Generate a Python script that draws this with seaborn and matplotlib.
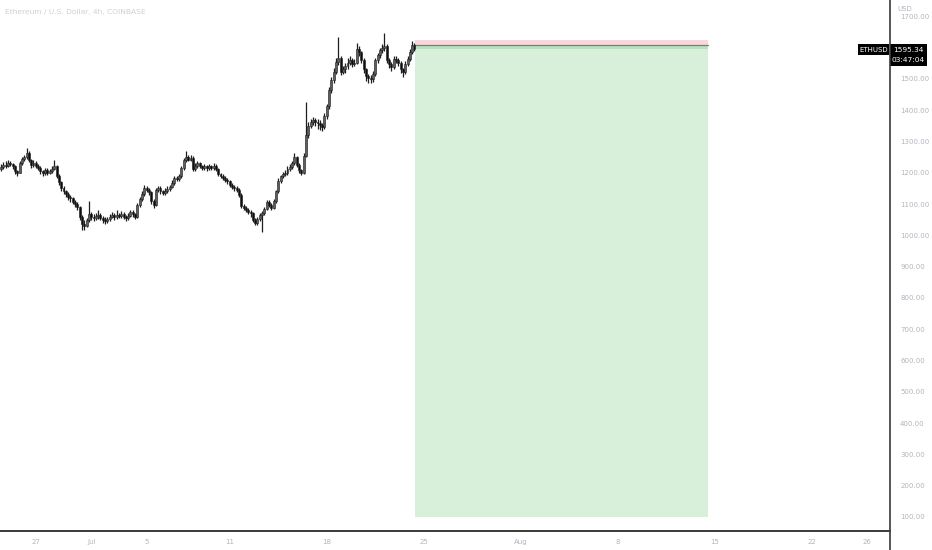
import numpy as np
import pandas as pd
import matplotlib
matplotlib.use("Agg")
import matplotlib.pyplot as plt
import matplotlib.dates as mdates
from matplotlib.patches import Rectangle
from matplotlib.lines import Line2D
import seaborn as sns

# ── Data (ETHUSD 4h) ───────────────────────────────────
start_time = "2022-06-24 12:00"
closes = [
    1218, 1226, 1222, 1232, 1228, 1220, 1205, 1200, 1232, 1244,
    1250, 1262, 1240, 1224, 1232, 1222, 1215, 1205, 1198, 1210,
    1200, 1206, 1212, 1220, 1190, 1170, 1150, 1140, 1132, 1122,
    1118, 1108, 1100, 1090, 1060, 1035, 1030, 1048, 1068, 1060,
    1056, 1062, 1064, 1056, 1050, 1046, 1052, 1060, 1066, 1058,
    1064, 1062, 1068, 1060, 1054, 1062, 1074, 1068, 1060, 1098,
    1115, 1132, 1152, 1146, 1138, 1110, 1098, 1145, 1150, 1140,
    1136, 1142, 1148, 1155, 1168, 1182, 1180, 1188, 1215, 1240,
    1250, 1242, 1248, 1212, 1222, 1230, 1222, 1216, 1220, 1214,
    1220, 1216, 1222, 1212, 1196, 1190, 1184, 1178, 1172, 1162,
    1155, 1150, 1145, 1130, 1095, 1088, 1082, 1076, 1070, 1050,
    1040, 1052, 1064, 1070, 1085, 1106, 1098, 1088, 1110, 1140,
    1175, 1188, 1195, 1200, 1212, 1218, 1230, 1250, 1225, 1208,
    1200, 1255, 1320, 1350, 1362, 1368, 1362, 1358, 1352, 1346,
    1380, 1412, 1465, 1495, 1522, 1555, 1568, 1522, 1530, 1540,
    1552, 1560, 1548, 1552, 1595, 1585, 1560, 1530, 1508, 1502,
    1498, 1515, 1560, 1575, 1592, 1598, 1604, 1560, 1548, 1538,
    1565, 1560, 1550, 1530, 1522, 1548, 1565, 1585, 1608, 1595.34,
]
highs = [
    1228, 1234, 1236, 1240, 1238, 1232, 1224, 1210, 1238, 1250,
    1258, 1279, 1268, 1245, 1240, 1238, 1228, 1220, 1210, 1216,
    1214, 1212, 1220, 1240, 1224, 1195, 1175, 1156, 1146, 1138,
    1128, 1124, 1114, 1106, 1094, 1065, 1048, 1055, 1110, 1076,
    1068, 1072, 1080, 1070, 1062, 1058, 1060, 1068, 1074, 1072,
    1080, 1072, 1078, 1074, 1066, 1070, 1082, 1080, 1072, 1104,
    1122, 1140, 1160, 1158, 1150, 1142, 1115, 1150, 1158, 1156,
    1146, 1150, 1156, 1162, 1176, 1190, 1188, 1196, 1222, 1248,
    1268, 1258, 1256, 1252, 1230, 1238, 1234, 1226, 1228, 1224,
    1228, 1226, 1232, 1228, 1216, 1200, 1196, 1190, 1184, 1176,
    1168, 1162, 1156, 1150, 1134, 1100, 1094, 1088, 1082, 1075,
    1055, 1058, 1070, 1078, 1092, 1114, 1112, 1104, 1116, 1146,
    1182, 1194, 1202, 1208, 1220, 1228, 1238, 1262, 1254, 1230,
    1212, 1262, 1426, 1362, 1372, 1378, 1376, 1372, 1368, 1360,
    1390, 1420, 1474, 1505, 1534, 1566, 1634, 1574, 1542, 1552,
    1566, 1574, 1566, 1562, 1615, 1606, 1590, 1566, 1536, 1516,
    1512, 1524, 1568, 1584, 1600, 1610, 1647, 1610, 1566, 1554,
    1574, 1572, 1566, 1556, 1536, 1556, 1574, 1594, 1620, 1614,
]
lows = [
    1205, 1212, 1214, 1218, 1220, 1212, 1196, 1190, 1198, 1226,
    1238, 1245, 1234, 1216, 1218, 1214, 1208, 1196, 1188, 1192,
    1194, 1195, 1200, 1208, 1182, 1160, 1142, 1132, 1124, 1114,
    1108, 1100, 1092, 1082, 1050, 1016, 1018, 1025, 1042, 1050,
    1046, 1048, 1052, 1048, 1040, 1036, 1040, 1046, 1054, 1050,
    1052, 1054, 1056, 1052, 1046, 1048, 1058, 1060, 1052, 1056,
    1092, 1110, 1126, 1138, 1130, 1100, 1088, 1094, 1138, 1132,
    1128, 1130, 1136, 1142, 1150, 1162, 1172, 1174, 1184, 1210,
    1234, 1236, 1236, 1205, 1206, 1216, 1214, 1208, 1210, 1206,
    1208, 1210, 1210, 1204, 1188, 1182, 1176, 1170, 1164, 1154,
    1148, 1142, 1138, 1122, 1088, 1080, 1074, 1068, 1060, 1042,
    1032, 1034, 1046, 1010, 1064, 1080, 1090, 1080, 1084, 1104,
    1134, 1168, 1182, 1188, 1194, 1204, 1212, 1224, 1218, 1200,
    1194, 1196, 1250, 1312, 1344, 1354, 1350, 1340, 1338, 1334,
    1340, 1372, 1404, 1456, 1486, 1514, 1544, 1512, 1514, 1520,
    1532, 1544, 1538, 1540, 1546, 1574, 1550, 1520, 1494, 1486,
    1488, 1490, 1510, 1552, 1566, 1584, 1590, 1550, 1536, 1526,
    1532, 1550, 1540, 1520, 1505, 1516, 1540, 1558, 1578, 1588,
]
first_open = 1212

# short position tool
pos_start, pos_end = "2022-07-24 09:00", "2022-08-14 12:00"
stop_price, entry_price, target_price = 1625, 1608, 100

y_ticks = [100, 200, 300, 400, 500, 600, 700, 800, 900, 1000,
           1100, 1200, 1300, 1400, 1500, 1700]
x_tick_dates = ["2022-06-27", "2022-07-01", "2022-07-05", "2022-07-11",
                "2022-07-18", "2022-07-25", "2022-08-01", "2022-08-08",
                "2022-08-15", "2022-08-22", "2022-08-26"]
x_tick_labels = ["27", "Jul", "5", "11", "18", "25", "Aug", "8", "15", "22", "26"]
title = "Ethereum / U.S. Dollar, 4h, COINBASE"
symbol, countdown = "ETHUSD", "03:47:04"
# ───────────────────────────────────────────────────────

sns.set_theme(style="white")
plt.rcParams['font.family'] = ['Liberation Sans Narrow', 'DejaVu Sans']

df = pd.DataFrame({
    "time": pd.date_range(start_time, periods=len(closes), freq="4h"),
    "close": closes, "high": highs, "low": lows,
})
df["open"] = [first_open] + closes[:-1]
df["t"] = mdates.date2num(df["time"])
df["up"] = df["close"] >= df["open"]

W, H = 932, 550
fig = plt.figure(figsize=(W / 100, H / 100), dpi=100)
ax = fig.add_axes([0, 1 - 531 / H, 889 / W, 531 / H])

# position box
p0, p1 = mdates.date2num(pd.Timestamp(pos_start)), mdates.date2num(pd.Timestamp(pos_end))
ax.fill_between([p0, p1], entry_price, stop_price, color="#fcd7da", lw=0, zorder=1)
ax.fill_between([p0, p1], target_price, entry_price, color="#d8f0d9", lw=0, zorder=1)
ax.fill_between([p0, p1], closes[-1], entry_price, color="#b8e2ba", lw=0, zorder=1)
ax.plot([p0, p1], [entry_price, entry_price], color="#787b86", lw=0.9, zorder=2)

# candles
body_w = 0.14
ax.vlines(df["t"], df["low"], df["high"], color="#1e1e1e", lw=0.9, zorder=3)
for up, col in [(True, "#5e5e5e"), (False, "#0d0d0d")]:
    d = df[df["up"] == up]
    bottom = np.minimum(d["open"], d["close"])
    height = np.maximum(np.abs(d["close"] - d["open"]), 2)
    ax.bar(d["t"], height, bottom=bottom, width=body_w, color=col,
           edgecolor="#1e1e1e", lw=0.4, zorder=4)

ax.set_xlim(mdates.date2num(pd.Timestamp("2022-06-24 10:00")),
            mdates.date2num(pd.Timestamp("2022-08-27 14:00")))
ax.set_ylim(55, 1752)

ax.yaxis.tick_right()
ax.set_yticks(y_ticks)
ax.set_yticklabels([f"{v:.2f}" for v in y_ticks])
ax.set_xticks(mdates.date2num(pd.to_datetime(x_tick_dates)))
ax.set_xticklabels(x_tick_labels)
ax.tick_params(axis="both", length=0, labelsize=5.0, colors="#b2b5be")
ax.tick_params(axis="y", pad=8)
ax.tick_params(axis="x", pad=6)
sns.despine(ax=ax, left=True, top=True, right=True, bottom=True)

# frame lines: bottom axis and right price-scale border
fig.add_artist(Line2D([0, 889.5 / W], [1 - 531 / H] * 2, color="#3a3a3a", lw=1.4))
fig.add_artist(Line2D([889.5 / W] * 2, [0, 1], color="#3a3a3a", lw=1.2))

# header + price labels
fig.text(5 / W, 1 - 12 / H, title, fontsize=5.4, color="#cdd0d6", va="center")
fig.text(897 / W, 1 - 9 / H, "USD", fontsize=5.0, color="#b2b5be", va="center")
fig.add_artist(Rectangle((858 / W, 1 - 55 / H), 31 / W, 11 / H, fc="black", ec="none",
                         transform=fig.transFigure))
fig.add_artist(Rectangle((890 / W, 1 - 66 / H), 37 / W, 22 / H, fc="black", ec="none",
                         transform=fig.transFigure))
fig.text(873.5 / W, 1 - 49.5 / H, symbol, fontsize=5.0, color="white",
         ha="center", va="center")
fig.text(908.5 / W, 1 - 50 / H, f"{closes[-1]:.2f}", fontsize=5.4, color="white",
         ha="center", va="center")
fig.text(908.5 / W, 1 - 60 / H, countdown, fontsize=5.4, color="white",
         ha="center", va="center")

fig.savefig("out.png", dpi=100)
